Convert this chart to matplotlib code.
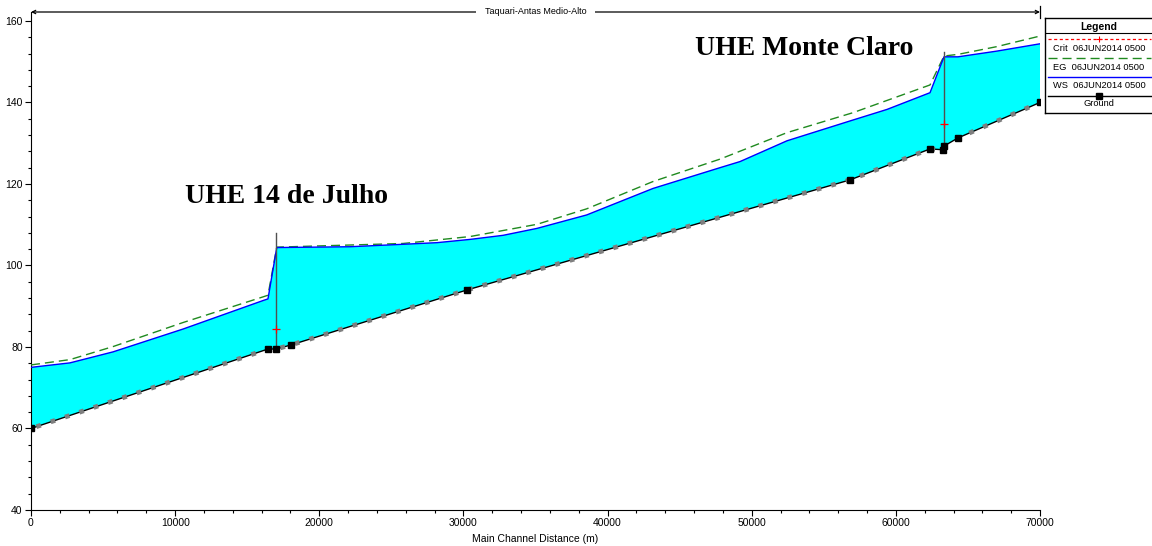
import numpy as np
import matplotlib
matplotlib.use('Agg')
import matplotlib.pyplot as plt
from matplotlib.ticker import MultipleLocator

# profile data (distance in m, elevation in m)
ground_x = [0, 16440, 17000, 18040, 30250, 56820, 62370, 63300, 63340, 64310, 70000]
ground_y = [60.0, 79.5, 79.5, 80.5, 94.0, 121.0, 128.6, 128.4, 129.3, 131.3, 140.0]

ws_x = [0, 2700, 5690, 10545, 16100, 16440, 17050, 22130, 25810, 28170, 30460,
        32750, 35100, 38550, 43150, 47800, 49190, 52450, 57030, 59390, 62370,
        63340, 64310, 67000, 70000]
ws_y = [75.0, 76.1, 78.8, 84.4, 91.4, 91.8, 104.4, 104.6, 105.2, 105.6, 106.4,
        107.4, 109.1, 112.4, 118.9, 124.0, 125.5, 130.6, 135.7, 138.3, 142.4,
        151.2, 151.2, 152.6, 154.4]

eg_x = [0, 2700, 5690, 10545, 16100, 16440, 17050, 25810, 30460, 35100, 38550,
        43150, 47800, 52450, 57030, 62370, 63340, 64310, 67000, 70000]
eg_y = [75.6, 76.9, 80.1, 86.0, 92.3, 92.7, 104.5, 105.4, 107.1, 110.1, 113.9,
        120.6, 126.1, 132.6, 137.5, 144.3, 151.4, 151.8, 153.7, 156.3]

crit_x = [17000, 63340]
crit_y = [84.4, 134.7]

# dam structures: station, bottom and top of line
dam_x = [17000, 63340]
dam_bottom = [79.5, 128.4]
dam_top = [108.0, 152.4]

labels = ['UHE 14 de Julho', 'UHE Monte Claro']
label_x = [10700, 46050]
label_y = [115.3, 151.7]

reach_name = 'Taquari-Antas Medio-Alto'
legend_rows = ['Crit  06JUN2014 0500', 'EG  06JUN2014 0500', 'WS  06JUN2014 0500', 'Ground']

plt.rcParams['font.family'] = ['Liberation Sans', 'DejaVu Sans']

fig = plt.figure(figsize=(11.52, 5.46), dpi=100)
ax = fig.add_axes([31 / 1152, 36 / 546, 1009 / 1152, 498 / 546])

# water body between ground and water surface
poly_x = np.concatenate([ws_x, ground_x[::-1]])
poly_y = np.concatenate([ws_y, ground_y[::-1]])
ax.fill(poly_x, poly_y, color='#00FFFF', lw=0, zorder=1)

ax.plot(eg_x, eg_y, color='#1f8a1f', lw=1.0, ls=(0, (6.5, 3.6)), zorder=3)
ax.plot(ws_x, ws_y, color='#0000FF', lw=1.0, zorder=4)

for x, b, t in zip(dam_x, dam_bottom, dam_top):
    ax.plot([x, x], [b, t], color='#505050', lw=1.0, zorder=5)

ax.plot(crit_x, crit_y, ls='none', marker='+', color='red', ms=6, mew=0.9, zorder=6)

ax.plot(ground_x, ground_y, color='black', lw=1.0, zorder=5)
ax.plot(ground_x, ground_y, color='#7f7f7f', lw=3.4, ls=(2, (1.0, 2.2)),
        dash_capstyle='butt', zorder=6)
ax.plot(ground_x, ground_y, ls='none', marker='s', color='black', ms=4, zorder=7)

for txt, x, y in zip(labels, label_x, label_y):
    ax.text(x, y, txt, family=['Liberation Serif', 'DejaVu Serif'], fontweight='bold',
            fontsize=20, ha='left', va='baseline', color='black')

ax.set_xlim(0, 70000)
ax.set_ylim(40, 162.2)
ax.spines['top'].set_visible(False)
ax.spines['right'].set_visible(False)
ax.xaxis.set_major_locator(MultipleLocator(10000))
ax.xaxis.set_minor_locator(MultipleLocator(2000))
ax.yaxis.set_major_locator(MultipleLocator(20))
ax.yaxis.set_minor_locator(MultipleLocator(4))
ax.tick_params(which='major', length=4, width=0.8, labelsize=7.5, pad=2)
ax.tick_params(which='minor', length=2.5, width=0.8)
ax.set_xlabel('Main Channel Distance (m)', fontsize=7.5, labelpad=4)

# reach name arrow along the top
ax.annotate('', xy=(0, 1), xytext=(0.5, 1), xycoords='axes fraction',
            arrowprops=dict(arrowstyle='->', lw=0.9, color='black',
                            shrinkA=0, shrinkB=0, mutation_scale=6))
ax.annotate('', xy=(1, 1), xytext=(0.5, 1), xycoords='axes fraction',
            arrowprops=dict(arrowstyle='->', lw=0.9, color='black',
                            shrinkA=0, shrinkB=0, mutation_scale=6))
ax.plot([1, 1], [0.988, 1.012], transform=ax.transAxes, color='black', lw=0.9, clip_on=False)
ax.text(0.5, 1, reach_name, transform=ax.transAxes, fontsize=6.5, ha='center', va='center',
        bbox=dict(facecolor='white', edgecolor='none', pad=6))

# legend box drawn by hand, like the HEC-RAS one
lg = fig.add_axes([1045 / 1152, 1 - 113 / 546, 108 / 1152, 95 / 546])
lg.set_xlim(0, 108)
lg.set_ylim(95, 0)
lg.set_xticks([])
lg.set_yticks([])
for s in lg.spines.values():
    s.set_linewidth(1.0)
lg.text(54, 9, 'Legend', fontsize=7.5, fontweight='bold', ha='center', va='center')
lg.plot([0, 108], [15.5, 15.5], color='black', lw=0.8)
line_y = [21, 40, 59, 78]
text_y = [31, 50, 68, 86]
lg.plot([3, 106], [line_y[0]] * 2, color='red', lw=0.9, ls=(0, (2.5, 2)))
lg.plot([54], [line_y[0]], marker='+', color='red', ms=5, mew=0.8)
lg.plot([3, 106], [line_y[1]] * 2, color='#1f8a1f', lw=1.0, ls=(0, (6.5, 3.6)))
lg.plot([3, 106], [line_y[2]] * 2, color='#0000FF', lw=1.0)
lg.plot([3, 106], [line_y[3]] * 2, color='black', lw=1.0)
lg.plot([54], [line_y[3]], marker='s', color='black', ms=4)
for txt, y in zip(legend_rows, text_y):
    lg.text(54, y, txt, fontsize=6.7, ha='center', va='center')

fig.savefig('out.png', dpi=100)
